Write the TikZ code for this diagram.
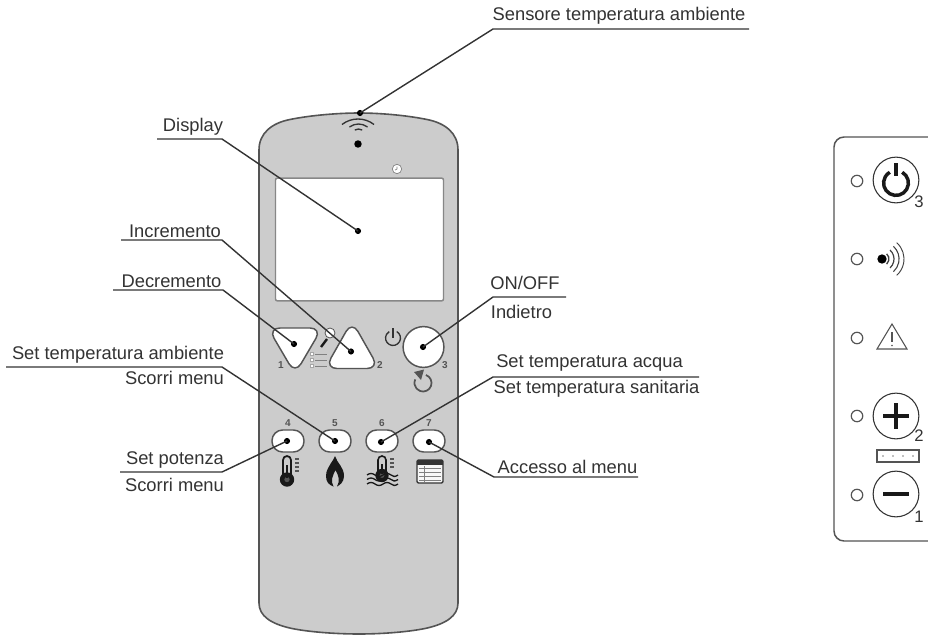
\documentclass[tikz,border=0pt]{standalone}
\usepackage{fontspec}
\setmainfont{Liberation Sans}
\definecolor{ink}{gray}{0.2}
\definecolor{bodygray}{gray}{0.80}
\definecolor{edge}{gray}{0.33}
\tikzset{
  x=0.75pt,y=-0.75pt,
  lbl/.style={font=\fontsize{13.75pt}{15pt}\selectfont,text=ink,inner sep=0pt,anchor=center},
  num/.style={font=\fontsize{7.5pt}{8pt}\selectfont\bfseries,text=edge,inner sep=0pt},
  bignum/.style={font=\fontsize{12.5pt}{14pt}\selectfont,text=ink,inner sep=0pt},
  leader/.style={draw=black!80,line width=1.05pt},
  pin/.style={circle,fill=black,inner sep=0pt,minimum size=4.6pt},
  key/.style={draw=edge,fill=white,line width=1.1pt},
  led/.style={circle,draw=edge,line width=0.9pt,minimum size=8.6pt,inner sep=0pt},
  ring/.style={circle,draw=ink,line width=0.8pt,minimum size=34.3pt,inner sep=0pt},
  thick sym/.style={line width=2.6pt,draw=black!90},
}
\begin{document}
\begin{tikzpicture}
\useasboundingbox (0,0) rectangle (928,635);
\fill[white] (0,0) rectangle (928,635);
% body
\path[fill=bodygray,draw=edge,line width=1.2pt]
 (259,603) -- (259,150) .. controls (259,133) and (272,123) .. (290,119.5)
 .. controls (312,115) and (340,113) .. (359,113)
 .. controls (378,113) and (405,115) .. (427,119.5)
 .. controls (445,123) and (458,133) .. (458,150) -- (458,603)
 .. controls (458,616) and (446,624) .. (425,628.5)
 .. controls (405,632.5) and (378,634) .. (359,634)
 .. controls (340,634) and (312,632.5) .. (292,628.5)
 .. controls (271,624) and (259,616) .. (259,603) -- cycle;
% display
\node[draw=edge!70,fill=white,line width=1.1pt,rounded corners=1.5pt,minimum width=126pt,minimum height=92.2pt,inner sep=0pt] (display) at (359.5,239.5) {};
% clock
\node[circle,draw=gray,fill=white,line width=0.5pt,minimum size=7pt,inner sep=0pt] (clock) at (397,169) {};
\draw[gray,line width=0.5pt] (397,166.5) -- (397,169) -- (395,170);
% wifi
\node[circle,fill=black,inner sep=0pt,minimum size=5.6pt] (wifidot) at (358,144) {};
\draw[ink,line width=1pt] (358.5,136.5) ++(120:5.6pt) arc[start angle=120,end angle=60,radius=5.6pt];
\draw[ink,line width=1pt] (358.5,139) ++(127:11.25pt) arc[start angle=127,end angle=53,radius=11.25pt];
\draw[ink,line width=1pt] (358,145) ++(128:19.5pt) arc[start angle=128,end angle=52,radius=19.5pt];
% triangles
\draw[key,rounded corners=9pt] (268,328) -- (322,328) -- (295,374) -- cycle;
\draw[key,rounded corners=9pt] (352,321) -- (379,368.5) -- (325,368.5) -- cycle;
\node[circle,key,minimum size=30.6pt,inner sep=0pt] (onoff) at (423.5,347) {};
% wrench & list
\node[circle,draw=edge,fill=white,line width=0.6pt,minimum size=7.5pt,inner sep=0pt] (wrenchhead) at (330,333) {};
\draw[black!90,line width=1.8pt] (327,339) -- (321,347);
\foreach \yy in {354,360,366}{
  \draw[gray!70,fill=white,line width=0.3pt] (310,\yy-1.5) rectangle (313,\yy+1.5);
  \draw[gray,line width=0.6pt] (315,\yy) -- (327,\yy);
}
% power symbol small
\draw[ink,line width=1pt] (393,338) ++(60:5.6pt) arc[start angle=60,end angle=-240,radius=5.6pt];
\draw[ink,line width=1pt] (393,328) -- (393,338);
% rotate arrow
\draw[edge,line width=1.3pt] (423,383) ++(70:6.4pt) arc[start angle=70,end angle=-205,radius=6.4pt];
\fill[edge] (414,372) -- (424,369.5) -- (421,380) -- cycle;
% numbers
\node[num] (n1) at (281,365) {1};
\node[num] (n2) at (380,365) {2};
\node[num] (n3) at (445,365) {3};
\node[num] (n4) at (288,423) {4};
\node[num] (n5) at (335,423) {5};
\node[num] (n6) at (382,423) {6};
\node[num] (n7) at (429,423) {7};
% oval keys
\foreach \nm/\xx in {a/288,b/335,c/382,d/429}
  \node[key,rounded corners=8pt,minimum width=24pt,minimum height=16.5pt,inner sep=0pt] (oval\nm) at (\xx,441) {};
% thermometer
\draw[black!90,line width=1.3pt,fill=bodygray] (283,478) -- (283,460) arc[start angle=180,end angle=0,radius=3pt] -- (291,478);
\fill[black!90] (287,479.5) circle (5.4pt);
\fill[edge] (287,479.5) circle (2pt);
\fill[black!90] (286,465) rectangle (288,478);
\foreach \yy in {459,463,467,471}
  \draw[edge,line width=1pt] (295,\yy) -- (299,\yy);
% flame
\fill[black!90] (335,456) .. controls (337,463) and (344,467) .. (344,476)
 .. controls (344,482) and (340,485) .. (337,486.5)
 .. controls (340,481) and (339,476) .. (335.5,470)
 .. controls (333,475) and (330,481) .. (333.5,486.5)
 .. controls (329,485) and (326,482) .. (326,476)
 .. controls (326,470) and (329,467) .. (331,463)
 .. controls (332,460) and (335,459) .. (335,456) -- cycle;
% water thermometer
\draw[black!90,line width=1.2pt,fill=bodygray] (378,473) -- (378,460) arc[start angle=180,end angle=0,radius=3pt] -- (386,473);
\fill[black!90] (382,475.5) circle (5pt);
\fill[edge] (382,475.5) circle (1.8pt);
\fill[black!90] (381,464) rectangle (383,474);
\foreach \yy in {459,463,467}
  \draw[edge,line width=0.9pt] (390,\yy) -- (394,\yy);
\foreach \yy in {475,479.5,484}
  \draw[black!90,line width=1pt] (367,\yy) .. controls (370,\yy-2) and (372,\yy-2) .. (375,\yy)
    .. controls (378,\yy+2) and (380,\yy+2) .. (383,\yy) .. controls (386,\yy-2) and (388,\yy-2) .. (391,\yy)
    .. controls (393,\yy+2) and (395,\yy+2) .. (398,\yy);
% menu icon
\draw[ink,line width=1pt,fill=white!85!bodygray,rounded corners=1pt] (417,460) rectangle (443,483);
\fill[ink] (417,460) rectangle (443,465);
\foreach \yy in {468.5,472.5,476.5,480}{
  \draw[gray,line width=0.5pt] (419,\yy) -- (441,\yy);
}
\draw[gray,line width=0.5pt] (424,466) -- (424,482);
% leader end points
\coordinate (tSens) at (493,29);  \coordinate (tSensE) at (749,29);
\coordinate (tDisp) at (222,139); \coordinate (tDispS) at (157,139);
\coordinate (tInc) at (222,240);  \coordinate (tIncS) at (121,240);
\coordinate (tDec) at (223,290);  \coordinate (tDecS) at (113,290);
\coordinate (tAmb) at (222,367);  \coordinate (tAmbS) at (6,367);
\coordinate (tPot) at (222,472);  \coordinate (tPotS) at (120,472);
\coordinate (tOn) at (493,297);   \coordinate (tOnE) at (566,297);
\coordinate (tAcq) at (493,377);  \coordinate (tAcqE) at (699,377);
\coordinate (tMen) at (494,477);  \coordinate (tMenE) at (638,477);
% pins
\node[pin] (pSens) at (360,113) {};
\node[pin] (pDisp) at (358,231) {};
\node[pin] (pInc) at (351,351.5) {};
\node[pin] (pDec) at (294,344) {};
\node[pin] (pOn) at (423,347) {};
\node[pin] (pAmb) at (335,441) {};
\node[pin] (pPot) at (287,441) {};
\node[pin] (pAcq) at (381,442) {};
\node[pin] (pMen) at (429,442) {};
% connectors
\draw[leader] (tSensE) -- (tSens) -- (pSens.center);
\draw[leader] (tDispS) -- (tDisp) -- (pDisp.center);
\draw[leader] (tIncS) -- (tInc) -- (pInc.center);
\draw[leader] (tDecS) -- (tDec) -- (pDec.center);
\draw[leader] (tAmbS) -- (tAmb) -- (pAmb.center);
\draw[leader] (tPotS) -- (tPot) -- (pPot.center);
\draw[leader] (tOnE) -- (tOn) -- (pOn.center);
\draw[leader] (tAcqE) -- (tAcq) -- (pAcq.center);
\draw[leader] (tMenE) -- (tMen) -- (pMen.center);
% labels
\node[lbl] (lSens) at (619,16) {Sensore temperatura ambiente};
\node[lbl] (lDisp) at (193,127) {Display};
\node[lbl] (lInc) at (175,231) {Incremento};
\node[lbl] (lDec) at (171.5,281) {Decremento};
\node[lbl] (lAmb) at (118,355) {Set temperatura ambiente};
\node[lbl] (lSc1) at (174.5,378) {Scorri menu};
\node[lbl] (lPot) at (175,460) {Set potenza};
\node[lbl] (lSc2) at (174.5,485) {Scorri menu};
\node[lbl] (lOn) at (525,283) {ON/OFF};
\node[lbl] (lInd) at (521.5,312) {Indietro};
\node[lbl] (lAcq) at (589.5,363) {Set temperatura acqua};
\node[lbl] (lSan) at (596.5,389) {Set temperatura sanitaria};
\node[lbl] (lMen) at (567.5,467) {Accesso al menu};
% side panel
\draw[draw=edge,line width=1.1pt,rounded corners=7.5pt] (940,137) -- (834,137) -- (834,541) -- (940,541);
\foreach \nm/\yy in {a/181,b/259,c/338,d/416,e/495}
  \node[led] (led\nm) at (857,\yy) {};
\node[ring] (rPow) at (896,180) {};
\node[ring] (rPlus) at (896,416) {};
\node[ring] (rMinus) at (896,494) {};
% power big
\draw[thick sym] (896,183) ++(60:9.3pt) arc[start angle=60,end angle=-240,radius=9.3pt];
\draw[thick sym] (896,163) -- (896,176);
% plus / minus
\draw[thick sym] (883,416) -- (909,416);
\draw[thick sym] (896,403) -- (896,429);
\draw[thick sym] (883,494) -- (909,494);
% signal
\node[circle,fill=black,inner sep=0pt,minimum size=7pt] (sig) at (882,259) {};
\foreach \r/\w in {5.2/1,9/0.9,12.8/0.8,16.5/0.7}
  \draw[black!75,line width=\w pt] (sig.center) ++(48:\r pt) arc[start angle=48,end angle=-48,radius=\r pt];
% warning
\draw[edge,line width=0.8pt] (892,324) -- (907,349) -- (877,349) -- cycle;
\draw[edge,line width=0.9pt] (892,332) -- (892,342);
\fill[edge] (892,345.5) circle (0.7pt);
% connector box
\node[draw=edge,line width=0.8pt,minimum width=31.5pt,minimum height=9pt,inner sep=0pt] (plug) at (898,456) {};
\foreach \xx in {883,893,903,913}
  \fill[gray] (\xx,456) circle (0.6pt);
% numbers
\node[bignum] (b3) at (919,202) {3};
\node[bignum] (b2) at (919,436) {2};
\node[bignum] (b1) at (919,517) {1};
\end{tikzpicture}
\end{document}
